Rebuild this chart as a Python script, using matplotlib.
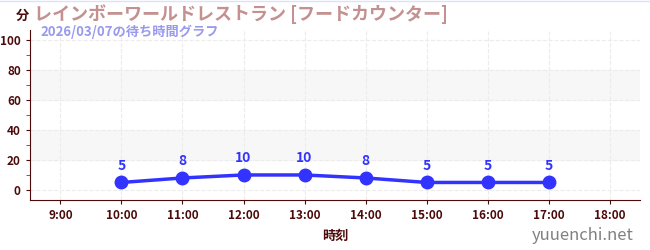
import matplotlib.pyplot as plt

plt.rcParams['font.family'] = ['Noto Sans CJK JP', 'DejaVu Sans']

hours = [10, 11, 12, 13, 14, 15, 16, 17]
wait_min = [5, 8, 10, 10, 8, 5, 5, 5]
tick_hours = [9, 10, 11, 12, 13, 14, 15, 16, 17, 18]
tick_labels = [f"{h}:00" for h in tick_hours]

title = "レインボーワールドレストラン [フードカウンター]"
subtitle = "2026/03/07の待ち時間グラフ"

axis_col = '#4d0a0a'

fig = plt.figure(figsize=(6.5, 2.5), dpi=100)
ax = fig.add_axes([0.046, 0.2, 0.939, 0.68])

# grey bands
for lo, hi in [(20, 40), (60, 80)]:
    ax.axhspan(lo, hi, color='#f7f7f7', zorder=0)

ax.plot(hours, wait_min, color='#3333ff', lw=2.5, marker='o', ms=9, zorder=3)
for h, v in zip(hours, wait_min):
    ax.annotate(str(v), (h, v), xytext=(0, 7), textcoords='offset points',
                ha='center', va='bottom', color='#3333ff', fontsize=10, fontweight='bold')

ax.set_xlim(8.5, 18.5)
ax.set_ylim(-6.7, 106.7)
ax.set_xticks(tick_hours)
ax.set_xticklabels(tick_labels)
ax.set_yticks(range(0, 101, 20))
ax.set_yticks(range(10, 100, 20), minor=True)
ax.tick_params(axis='both', colors=axis_col, labelsize=8.5, length=3)
ax.tick_params(axis='y', which='minor', colors='red', length=3)
for lbl in ax.get_xticklabels() + ax.get_yticklabels():
    lbl.set_fontweight('bold')

ax.grid(True, which='major', color='#ececec', linestyle='--', lw=0.8)
for s in ['top', 'right']:
    ax.spines[s].set_visible(False)
ax.spines['left'].set_color(axis_col)
ax.spines['bottom'].set_color(axis_col)

ax.set_xlabel("時刻", color=axis_col, fontsize=9.5, fontweight='bold', labelpad=5)

fig.text(0.024, 0.935, "分", color=axis_col, fontsize=9.5, fontweight='bold', ha='left', va='center')
fig.text(0.053, 0.945, title, color='#c49090', fontsize=13, fontweight='bold', ha='left', va='center')
fig.text(0.062, 0.872, subtitle, color='#9999ee', fontsize=9.5, fontweight='bold', ha='left', va='center')
fig.text(0.975, 0.06, "yuuenchi.net", color='#808080', fontsize=12, ha='right', va='center')
fig.add_artist(plt.Line2D([0, 1], [0.998, 0.998], color='#dde0ff', lw=1))

fig.savefig('out.png', dpi=100)
